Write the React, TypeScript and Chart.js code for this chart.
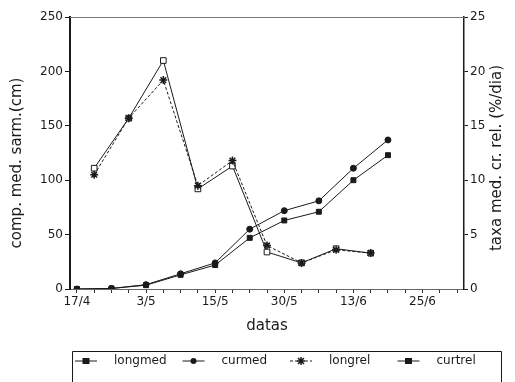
import React, { useEffect, useRef } from 'react';
import { Chart, registerables } from 'chart.js';

Chart.register(...registerables);

// ---- data ----
const dateLabels = ['17/4', '', '3/5', '', '15/5', '', '30/5', '', '13/6', '', '25/6', ''];
const medPositions = [0, 1, 2, 3, 4, 5, 6, 7, 8, 9];
const relPositions = [0.5, 1.5, 2.5, 3.5, 4.5, 5.5, 6.5, 7.5, 8.5];
const longmed = [0, 0.5, 3.5, 13, 22, 47, 63, 71, 100, 123];
const curmed = [0, 0.5, 4, 14, 24, 55, 72, 81, 111, 137];
const longrel = [10.5, 15.7, 19.2, 9.5, 11.8, 4.0, 2.4, 3.6, 3.3];
const currel = [11.1, 15.7, 21.0, 9.2, 11.3, 3.4, 2.4, 3.7, 3.3];
const seriesNames = ['longmed', 'curmed', 'longrel', 'curtrel'];
const leftTitle = 'comp. med. sarm.(cm)';
const rightTitle = 'taxa med. cr. rel. (%/dia)';
const xTitle = 'datas';

const FONT = '"DejaVu Sans", sans-serif';
const INK = '#1a1a1a';

function pts(xs: number[], ys: number[]) {
  return ys.map((y, i) => ({ x: xs[i], y }));
}

function drawMarker(ctx: CanvasRenderingContext2D, style: string, x: number, y: number) {
  ctx.save();
  ctx.strokeStyle = INK;
  ctx.fillStyle = INK;
  ctx.lineWidth = 1;
  if (style === 'rect') {
    ctx.fillRect(x - 3.5, y - 3, 7, 6);
  } else if (style === 'circle') {
    ctx.beginPath();
    ctx.arc(x, y, 3, 0, Math.PI * 2);
    ctx.fill();
  } else if (style === 'star') {
    ctx.lineWidth = 1.5;
    ctx.beginPath();
    ctx.moveTo(x - 4, y); ctx.lineTo(x + 4, y);
    ctx.moveTo(x, y - 4); ctx.lineTo(x, y + 4);
    ctx.moveTo(x - 3, y - 3); ctx.lineTo(x + 3, y + 3);
    ctx.moveTo(x - 3, y + 3); ctx.lineTo(x + 3, y - 3);
    ctx.stroke();
  } else {
    ctx.fillStyle = '#fff';
    ctx.fillRect(x - 3.5, y - 3.5, 7, 7);
    ctx.strokeRect(x - 3.5, y - 3.5, 7, 7);
  }
  ctx.restore();
}

const decorPlugin = {
  id: 'decor',
  afterDraw(chart: any) {
    const { ctx, chartArea: a } = chart;
    ctx.save();
    // top frame line
    ctx.strokeStyle = '#777';
    ctx.lineWidth = 1;
    ctx.beginPath();
    ctx.moveTo(a.left, a.top + 0.5);
    ctx.lineTo(a.right, a.top + 0.5);
    ctx.stroke();

    // axis titles
    ctx.fillStyle = INK;
    ctx.font = `15px ${FONT}`;
    ctx.textAlign = 'center';
    ctx.textBaseline = 'middle';
    ctx.fillText(xTitle, (a.left + a.right) / 2, a.bottom + 37);

    const midY = (a.top + a.bottom) / 2;
    ctx.save();
    ctx.translate(17, midY + 10);
    ctx.rotate(-Math.PI / 2);
    ctx.fillText(leftTitle, 0, 0);
    ctx.restore();

    ctx.save();
    ctx.translate(497, midY + 5);
    ctx.rotate(-Math.PI / 2);
    ctx.fillText(rightTitle, 0, 0);
    ctx.restore();

    // legend box
    const bx0 = 72, bx1 = 502, by0 = 351.5, by1 = chart.height;
    ctx.strokeStyle = INK;
    ctx.lineWidth = 1;
    ctx.beginPath();
    ctx.moveTo(bx0 + 0.5, by1);
    ctx.lineTo(bx0 + 0.5, by0);
    ctx.lineTo(bx1 - 0.5, by0);
    ctx.lineTo(bx1 - 0.5, by1);
    ctx.stroke();

    const colW = (bx1 - bx0) / seriesNames.length;
    const ly = 361;
    chart.data.datasets.forEach((ds: any, i: number) => {
      const cx = bx0 + colW * i + 14;
      ctx.save();
      ctx.strokeStyle = INK;
      ctx.lineWidth = 1;
      if (ds.borderDash && ds.borderDash.length) ctx.setLineDash(ds.borderDash);
      ctx.beginPath();
      ctx.moveTo(cx - 11, ly);
      ctx.lineTo(cx + 11, ly);
      ctx.stroke();
      ctx.restore();
      drawMarker(ctx, ds.pointStyle, cx, ly);
      ctx.fillStyle = INK;
      ctx.font = `12px ${FONT}`;
      ctx.textAlign = 'left';
      ctx.textBaseline = 'middle';
      ctx.fillText(ds.label, cx + 28, ly);
    });
    ctx.restore();
  },
};

export default function App() {
  const ref = useRef<HTMLCanvasElement | null>(null);

  useEffect(() => {
    if (!ref.current) return;
    const chart = new Chart(ref.current, {
      type: 'line',
      data: {
        datasets: [
          {
            label: seriesNames[0],
            data: pts(medPositions, longmed),
            yAxisID: 'y',
            borderColor: INK,
            backgroundColor: INK,
            borderWidth: 1,
            pointStyle: 'rect',
            pointRadius: 3.5,
            pointBorderWidth: 1,
            pointBackgroundColor: INK,
            pointBorderColor: INK,
          },
          {
            label: seriesNames[1],
            data: pts(medPositions, curmed),
            yAxisID: 'y',
            borderColor: INK,
            backgroundColor: INK,
            borderWidth: 1,
            pointStyle: 'circle',
            pointRadius: 3,
            pointBackgroundColor: INK,
            pointBorderColor: INK,
          },
          {
            label: seriesNames[2],
            data: pts(relPositions, longrel),
            yAxisID: 'y1',
            borderColor: INK,
            backgroundColor: INK,
            borderWidth: 1,
            borderDash: [3, 2],
            pointStyle: 'star',
            pointRadius: 4,
            pointBorderWidth: 1.5,
            pointBackgroundColor: INK,
            pointBorderColor: INK,
          },
          {
            label: seriesNames[3],
            data: pts(relPositions, currel),
            yAxisID: 'y1',
            borderColor: INK,
            backgroundColor: '#fff',
            borderWidth: 1,
            pointStyle: 'rect',
            pointRadius: 4,
            pointBorderWidth: 1,
            pointBackgroundColor: '#fff',
            pointBorderColor: INK,
          },
        ],
      },
      options: {
        responsive: false,
        animation: false,
        devicePixelRatio: 1,
        layout: { padding: { top: 17, left: 0, right: 0, bottom: 0 } },
        plugins: {
          legend: { display: false },
          tooltip: { enabled: false },
        },
        scales: {
          x: {
            type: 'linear',
            min: -0.2,
            max: 11.2,
            afterFit: (s: any) => { s.height = 93; },
            afterBuildTicks: (s: any) => {
              const ticks: any[] = [];
              for (let k = 0; k <= (dateLabels.length - 1) * 2; k++) ticks.push({ value: k / 2 });
              s.ticks = ticks;
            },
            ticks: {
              stepSize: 0.5,
              autoSkip: false,
              maxRotation: 0,
              minRotation: 0,
              padding: 2,
              color: INK,
              font: { family: FONT, size: 12 },
              callback: (v: any) => {
                const i = Math.round(v);
                if (Math.abs(v - i) < 1e-6 && dateLabels[i]) return dateLabels[i];
                return '';
              },
            },
            grid: { drawOnChartArea: false, tickLength: 4, color: '#333' },
            border: { display: true, color: '#666', width: 1 },
          },
          y: {
            type: 'linear',
            position: 'left',
            min: 0,
            max: 250,
            afterFit: (s: any) => { s.width = 70; },
            ticks: {
              stepSize: 50,
              padding: 2,
              color: INK,
              font: { family: FONT, size: 12 },
            },
            grid: { drawOnChartArea: false, tickLength: 5, color: INK },
            border: { display: true, color: INK, width: 2 },
          },
          y1: {
            type: 'linear',
            position: 'right',
            min: 0,
            max: 25,
            afterFit: (s: any) => { s.width = 51; },
            ticks: {
              stepSize: 5,
              padding: 2,
              color: INK,
              font: { family: FONT, size: 12 },
            },
            grid: { drawOnChartArea: false, tickLength: 4, color: INK },
            border: { display: true, color: INK, width: 1.5 },
          },
        },
      },
      plugins: [decorPlugin],
    } as any);
    return () => chart.destroy();
  }, []);

  return (
    <div style={{ position: 'absolute', left: 0, top: 0, width: 515, height: 382, background: '#fff' }}>
      <canvas ref={ref} width={515} height={382} style={{ display: 'block', width: 515, height: 382 }} />
    </div>
  );
}
